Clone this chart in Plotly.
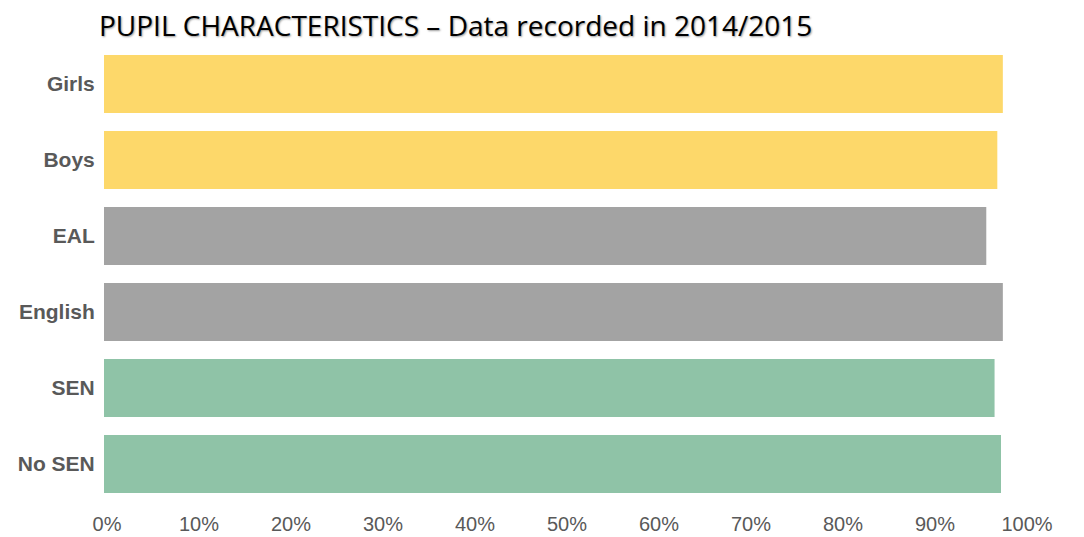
import plotly.graph_objects as go

categories = ["Girls", "Boys", "EAL", "English", "SEN", "No SEN"]
values = [0.977, 0.971, 0.959, 0.977, 0.968, 0.975]
tick_values = [0, 0.1, 0.2, 0.3, 0.4, 0.5, 0.6, 0.7, 0.8, 0.9, 1.0]
tick_labels = ["0%", "10%", "20%", "30%", "40%", "50%", "60%", "70%", "80%", "90%", "100%"]

bar_colors = ["#FDD86A", "#FDD86A", "#A3A3A3", "#A3A3A3", "#8FC3A7", "#8FC3A7"]

W, H = 1076, 529

fig = go.Figure(go.Bar(
    y=categories, x=values, orientation="h",
    marker=dict(color=bar_colors, line=dict(width=0)),
    hovertemplate="%{y}: %{x:.1%}<extra></extra>",
))

fig.update_layout(
    width=W, height=H,
    margin=dict(l=96, r=60, t=38, b=35, autoexpand=False),
    paper_bgcolor="white", plot_bgcolor="white",
    bargap=0.237,
    showlegend=False,
    title=dict(
        text="PUPIL CHARACTERISTICS – Data recorded in 2014/2015",
        font=dict(family="Open Sans", size=28, color="#000000",
                  shadow="1px 1px 2px #9a9a9a"),
        xref="container", yref="container",
        x=91/W, xanchor="left", y=1-18/H, yanchor="middle",
    ),
)
fig.update_xaxes(
    range=[0, 1], tickvals=tick_values, ticktext=tick_labels,
    showgrid=False, zeroline=False, showline=False, automargin=False,
    ticks="outside", ticklen=4, tickcolor="rgba(0,0,0,0)",
    ticklabelshift=3,
    tickfont=dict(family="Liberation Sans, Arial", size=20, color="#595959"),
    fixedrange=True,
)
fig.update_yaxes(
    categoryorder="array", categoryarray=categories, autorange="reversed",
    showgrid=False, zeroline=False, showline=False, automargin=False,
    ticks="outside", ticklen=4, tickcolor="rgba(0,0,0,0)",
    tickfont=dict(family="Liberation Sans, Arial", size=21, color="#595959",
                  weight="bold"),
    fixedrange=True,
)

fig.write_html("out.html")
